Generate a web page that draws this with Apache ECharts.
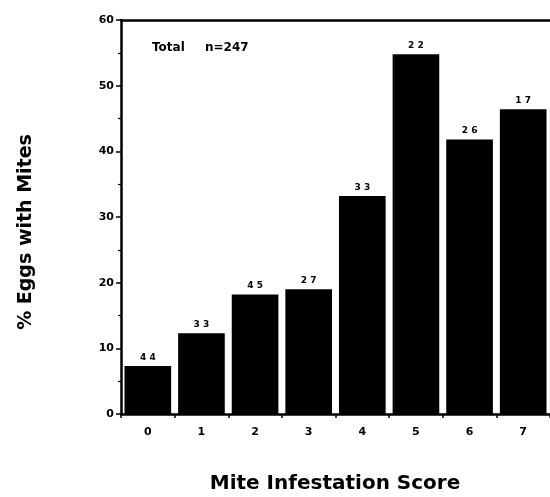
<!DOCTYPE html>
<html>
<head>
<meta charset="utf-8">
<script src="https://cdn.jsdelivr.net/npm/echarts@6/dist/echarts.min.js"></script>
<style>
  html, body { margin: 0; padding: 0; background: #fff; }
  #chart { width: 550px; height: 497px; }
</style>
</head>
<body>
<div id="chart"></div>
<script>
// mite infestation score vs % eggs with mites
var scores = ['0', '1', '2', '3', '4', '5', '6', '7'];
var pctEggs = [7.3, 12.3, 18.2, 19.0, 33.2, 54.8, 41.8, 46.4];
var nEggs = [44, 33, 45, 27, 33, 22, 26, 17];
var yTicks = [0, 10, 20, 30, 40, 50, 60];

var font = '"DejaVu Sans", Verdana, sans-serif';
var chart = echarts.init(document.getElementById('chart'));

var option = {
  animation: false,
  backgroundColor: '#fff',
  grid: { left: 121, right: -3, top: 20, bottom: 83 },
  xAxis: [{
    type: 'category',
    data: scores,
    axisLine: { lineStyle: { color: '#000', width: 2.5 } },
    axisTick: { show: true, length: 4, lineStyle: { color: '#000', width: 1.5 } },
    axisLabel: { color: '#000', fontFamily: font, fontWeight: 'bold', fontSize: 11, margin: 13 }
  }, {
    // top frame line
    type: 'category',
    position: 'top',
    data: scores,
    axisLine: { lineStyle: { color: '#000', width: 2.5 } },
    axisTick: { show: false },
    axisLabel: { show: false }
  }],
  yAxis: {
    type: 'value',
    min: yTicks[0],
    max: yTicks[yTicks.length - 1],
    interval: 10,
    axisLine: { show: true, lineStyle: { color: '#000', width: 2.5 } },
    axisTick: { show: true, length: 5, lineStyle: { color: '#000', width: 1.5 } },
    minorTick: { show: true, splitNumber: 2, length: 3, lineStyle: { color: '#000', width: 1.2 } },
    splitLine: { show: false },
    axisLabel: { color: '#000', fontFamily: font, fontWeight: 'bold', fontSize: 11, margin: 7 }
  },
  graphic: [
    { type: 'text', left: 152, top: 42,
      style: { text: 'Total', fill: '#000', font: 'bold 12px ' + font } },
    { type: 'text', left: 205, top: 42,
      style: { text: 'n=247', fill: '#000', font: 'bold 12px ' + font } },
    { type: 'text', x: 335, y: 484,
      style: { text: 'Mite Infestation Score', fill: '#000', font: 'bold 20px ' + font,
               align: 'center', verticalAlign: 'middle' } },
    { type: 'text', x: 26, y: 232, rotation: Math.PI / 2,
      style: { text: '% Eggs with Mites', fill: '#000', font: 'bold 19px ' + font,
               align: 'center', verticalAlign: 'middle' } }
  ],
  series: [{
    type: 'bar',
    data: pctEggs,
    barCategoryGap: '13%',
    itemStyle: { color: '#000' },
    label: {
      show: true,
      position: 'top',
      distance: 4,
      color: '#000',
      fontFamily: font,
      fontWeight: 'bold',
      fontSize: 9,
      formatter: function (p) { return String(nEggs[p.dataIndex]).split('').join(' '); }
    }
  }]
};

chart.setOption(option);
</script>
</body>
</html>
